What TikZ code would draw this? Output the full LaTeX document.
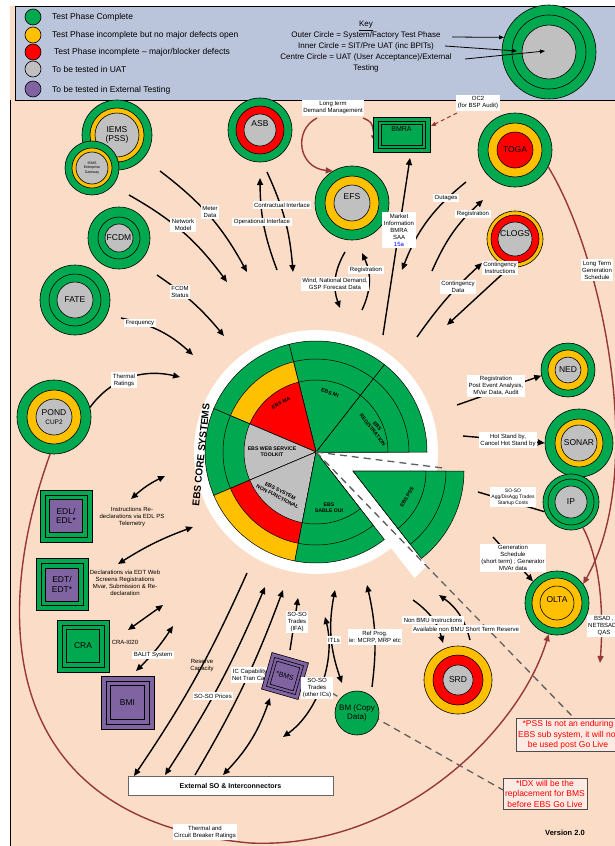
\documentclass[tikz,border=0pt]{standalone}
\usepackage{fontspec}
\setmainfont{Liberation Sans}
\usetikzlibrary{arrows.meta}
\definecolor{okgreen}{RGB}{0,168,80}
\definecolor{okamber}{RGB}{255,192,0}
\definecolor{okred}{RGB}{255,0,0}
\definecolor{okgrey}{RGB}{192,192,192}
\definecolor{extpurple}{RGB}{128,100,162}
\definecolor{peach}{RGB}{251,221,199}
\definecolor{keyblue}{RGB}{186,196,218}
\definecolor{rust}{RGB}{150,56,52}
\definecolor{notepink}{RGB}{253,234,226}
\definecolor{dashgrey}{RGB}{95,95,95}
\tikzset{
  disc/.style={circle,draw=black,line width=0.6pt,inner sep=0pt},
  sq/.style={rectangle,draw=black,line width=0.6pt,inner sep=0pt},
  arr/.style={line width=1.4pt,->},
  darr/.style={line width=1.4pt,<->},
  plainline/.style={line width=1.4pt},
  rustarr/.style={draw=rust,line width=1.4pt,->},
  lbl/.style={fill=white,inner sep=1.5pt,align=center,font=\fontsize{6}{7}\selectfont},
  bare/.style={inner sep=0pt,align=center,font=\fontsize{6}{7}\selectfont},
  sysname/.style={inner sep=0pt,align=center,font=\fontsize{8.5}{9.5}\selectfont},
  seclbl/.style={inner sep=0pt,align=center,font=\fontsize{5.2}{6}\selectfont\bfseries},
  legtxt/.style={anchor=west,inner sep=0pt,font=\fontsize{8.5}{9}\selectfont},
  note/.style={draw=black!70,fill=notepink,text=okred,align=center,font=\fontsize{8.5}{10.5}\selectfont,inner sep=2pt},
  pssdash/.style={draw=dashgrey,line width=1.3pt,dash pattern=on 7pt off 5pt}
}
\newcommand{\sysring}[9]{%
  \node[disc,minimum size=#3,fill=#4] (#1) at (#2) {};
  \node[disc,minimum size=#5,fill=#6] (#1-m) at (#1) {};
  \node[disc,minimum size=#7,fill=#8] (#1-c) at (#1) {};
  \node[sysname] (#1-t) at (#1) {#9};
}
\newcommand{\sysbox}[6]{%
  \node[sq,fill=#4,minimum size=#3] (#1) at (#2) {};
  \node[sq,minimum size=#3-10pt] (#1-m) at (#1) {};
  \node[sq,fill=#5,minimum size=#3-19pt] (#1-c) at (#1) {};
  \node[sysname] (#1-t) at (#1) {#6};
}
\begin{document}
\begin{tikzpicture}[x=1pt,y=1pt,>={Triangle[length=7pt,width=6pt]}]
\useasboundingbox (0,0) rectangle (615,-846);
\fill[white] (0,0) rectangle (615,-846);
\fill[peach] (10,-6) rectangle (615,-846);
\filldraw[fill=keyblue,draw=black,line width=0.8pt] (15,-6) rectangle (620,-100);
\draw[line width=0.8pt] (10,-100) -- (10,-846);

\node[disc,fill=okgreen,minimum size=16pt] (lg-green) at (33,-17) {};
\node[disc,fill=okamber,minimum size=16pt] (lg-amber) at (33,-35) {};
\node[disc,fill=okred,minimum size=16pt] (lg-red) at (33,-52) {};
\node[disc,fill=okgrey,minimum size=16pt] (lg-grey) at (33,-69) {};
\node[disc,fill=extpurple,minimum size=16pt] (lg-purple) at (33,-89) {};
\node[legtxt] (lt-green) at (52,-17) {Test Phase Complete};
\node[legtxt] (lt-amber) at (52,-35) {Test Phase incomplete but no major defects open};
\node[legtxt] (lt-red) at (54,-52) {Test Phase incomplete -- major/blocker defects};
\node[legtxt] (lt-grey) at (52,-69) {To be tested in UAT};
\node[legtxt] (lt-purple) at (52,-90) {To be tested in External Testing};
\node[align=center,inner sep=0pt,font=\fontsize{8}{11}\selectfont] (keytxt) at (366,-47)
  {\underline{Key}\\Outer Circle = System/Factory Test Phase\\Inner Circle = SIT/Pre UAT (inc BPITs)\\Centre Circle = UAT (User Acceptance)/External\\Testing};
\sysring{keyc}{549,-52}{94pt}{okgreen}{74pt}{okgreen}{54pt}{okgrey}{}
\coordinate (kA) at (452,-37);
\coordinate (kB) at (445,-46);
\coordinate (kC) at (465,-59);
\coordinate (kD) at (517,-51);
\coordinate (kE) at (545,-51);
\draw[line width=0.8pt,-{Triangle[length=5pt,width=4pt]}] (kA) -- (keyc.162);
\draw[line width=0.8pt,-{Triangle[length=5pt,width=4pt]}] (kB) -- (kD);
\draw[line width=0.8pt,-{Triangle[length=5pt,width=4pt]}] (kC) -- (kE);

\sysring{iems}{117,-135}{70pt}{okgreen}{54pt}{okamber}{44pt}{okgrey}{IEMS\\(PSS)}
\sysring{gate}{92,-168}{54pt}{okgreen}{40pt}{okamber}{32pt}{okgrey}{}
\node[inner sep=0pt,align=center,font=\fontsize{3.6}{4.3}\selectfont] (gate-n) at (gate) {IEMS\\Enterprise\\Gateway};
\sysring{asb}{260,-130}{64pt}{okgreen}{48pt}{okred}{32pt}{okgrey}{}
\node[sysname] (asb-n) at (260,-124) {ASB};
\sysring{fcdm}{119,-238}{62pt}{okgreen}{42pt}{okgreen}{28pt}{okgrey}{FCDM}
\sysring{fate}{75,-300}{70pt}{okgreen}{52pt}{okgreen}{36pt}{okgrey}{FATE}
\sysring{efs}{352,-203}{74pt}{okgreen}{54pt}{okamber}{36pt}{okgrey}{}
\node[sysname] (efs-n) at (352,-197) {EFS};
\sysring{toga}{515,-150}{74pt}{okgreen}{54pt}{okamber}{36pt}{okred}{TOGA}
\sysring{clogs}{515,-239}{56pt}{okamber}{48pt}{okred}{34pt}{okgrey}{}
\node[sysname] (clogs-n) at (515,-234) {CLOGS};
\sysring{ned}{568,-370}{54pt}{okgreen}{40pt}{okamber}{26pt}{okgrey}{NED}
\sysring{sonar}{579,-443}{68pt}{okgreen}{48pt}{okamber}{36pt}{okgrey}{SONAR}
\sysring{ip}{571,-502}{56pt}{okgreen}{46pt}{okgreen}{32pt}{okgrey}{IP}
\sysring{olta}{557,-603}{64pt}{okgreen}{50pt}{okamber}{34pt}{okamber}{}
\node[sysname] (olta-n) at (557,-600) {OLTA};
\sysring{srd}{458,-680}{68pt}{okamber}{50pt}{okred}{30pt}{okgrey}{SRD}
\sysring{pond}{54,-417}{74pt}{okgreen}{54pt}{okamber}{36pt}{okgrey}{POND\\{\fontsize{6.5}{7.5}\selectfont CUP2}}

\coordinate (ebs) at (316,-452);
\coordinate (pss) at (353,-471);
\begin{scope}[shift={(ebs)}]
\fill[white] (0,0) circle (122);
\fill[white] (0,0) -- (-52:160) -- (110.9,-113.6) -- (37,-19) -- cycle;
\foreach \a/\b/\co/\cm/\ci in {0/52/okgreen/okgreen/okgreen,52/104/okgreen/okgreen/okgreen,104/157/okgreen/okamber/okred,157/203/okgreen/okgreen/okgrey,203/259/okamber/okred/okgrey,259/308/okgreen/okgreen/okgreen}{
  \filldraw[fill=\co,line width=0.5pt] (0,0) -- (\a:111) arc[start angle=\a,end angle=\b,radius=111] -- cycle;
  \filldraw[fill=\cm,line width=0.5pt] (0,0) -- (\a:93) arc[start angle=\a,end angle=\b,radius=93] -- cycle;
  \filldraw[fill=\ci,line width=0.5pt] (0,0) -- (\a:72) arc[start angle=\a,end angle=\b,radius=72] -- cycle;
}
\end{scope}
\begin{scope}[shift={(pss)}]
\foreach \r in {111,93,73}{
  \filldraw[fill=okgreen,line width=0.5pt] (0,0) -- (-52:\r) arc[start angle=-52,end angle=0,radius=\r] -- cycle;
}
\end{scope}
\node[seclbl,rotate=-19] (s-mi) at (330,-393) {EBS MI};
\node[seclbl,rotate=-52] (s-reg) at (375,-428) {EBS\\REGISTRATION};
\node[seclbl,rotate=27] (s-ma) at (281,-403) {EBS MA};
\node[seclbl] (s-web) at (272,-452) {EBS WEB SERVICE\\TOOLKIT};
\node[seclbl,rotate=-27] (s-nf) at (279,-494) {EBS SYSTEM\\NON FUNCTIONAL};
\node[seclbl] (s-sable) at (329,-508) {EBS\\SABLE OUI};
\node[seclbl,rotate=60] (s-pss) at (407,-497) {EBS PSS};
\node[inner sep=0pt,rotate=84,font=\fontsize{10}{11}\selectfont\bfseries] (s-core) at (201,-455) {EBS CORE SYSTEMS};

\coordinate (pssend) at (443,-468);
\coordinate (pssnoteA) at (573,-717);
\coordinate (bmsdash) at (300,-675);
\coordinate (idxdash) at (503,-790);
\draw[pssdash] (ebs) -- (pssend);
\draw[pssdash] (ebs) -- (pssnoteA);
\draw[pssdash] (bmsdash) -- (idxdash);

\coordinate (ltdA) at (317,-118);
\coordinate (ltdC) at (363,-118);
\coordinate (ltdD) at (375,-142);
\coordinate (oc2A) at (457,-113);
\coordinate (oc2B) at (431,-126);
\coordinate (bsadB) at (600,-663);
\coordinate (tcbM) at (250,-843);
\draw[rustarr] (ltdA) .. controls (293,-130) and (298,-168) .. (efs.121);
\draw[rustarr] (ltdC) .. controls (372,-122) .. (ltdD);
\draw[draw=rust,line width=1pt,dash pattern=on 4pt off 3pt,-{Triangle[length=5pt,width=4pt]}] (oc2A) -- (oc2B);
\draw[rustarr] (toga.-27) .. controls (602,-255) and (648,-470) .. (olta.36);
\draw[rustarr] (ip.-65) .. controls (600,-560) and (604,-610) .. (bsadB);
\draw[rustarr] (pond.-96) .. controls (-10,-620) and (0,-820) .. (tcbM) .. controls (400,-850) and (520,-730) .. (olta.-105);

\coordinate (meterA) at (160,-171);
\coordinate (meterB) at (247,-272);
\coordinate (netA) at (129,-195);
\coordinate (netB) at (227,-282);
\coordinate (fcdmA) at (157,-275);
\coordinate (fcdmB) at (224,-336);
\coordinate (freqA) at (121,-318);
\coordinate (freqB) at (193,-355);
\coordinate (opA) at (277,-270);
\coordinate (opB) at (260,-178);
\coordinate (conA) at (267,-172);
\coordinate (conB) at (293,-272);
\coordinate (windA) at (345,-252);
\coordinate (windB) at (340,-308);
\coordinate (regA) at (362,-310);
\coordinate (regB) at (362,-253);
\coordinate (mktA) at (383,-335);
\coordinate (mktB) at (410,-158);
\coordinate (outA) at (466,-182);
\coordinate (outB) at (402,-270);
\coordinate (reg2A) at (432,-271);
\coordinate (reg2B) at (483,-200);
\coordinate (cdA) at (417,-337);
\coordinate (cdB) at (482,-263);
\coordinate (ciB) at (447,-325);
\coordinate (therB) at (180,-377);
\coordinate (insA) at (131,-499);
\coordinate (insB) at (165,-476);
\coordinate (decA) at (118,-564);
\coordinate (decB) at (193,-527);
\coordinate (craA) at (128,-630);
\coordinate (craB) at (163,-605);
\coordinate (balA) at (136,-671);
\coordinate (balB) at (173,-626);
\coordinate (resA) at (247,-573);
\coordinate (resB) at (134,-776);
\coordinate (sopA) at (165,-775);
\coordinate (sopB) at (265,-587);
\coordinate (iccA) at (195,-775);
\coordinate (iccB) at (283,-590);
\coordinate (bmsA) at (270,-698);
\coordinate (bmsB) at (223,-775);
\coordinate (ifaA) at (290,-650);
\coordinate (ifaB) at (298,-598);
\coordinate (othA) at (283,-737);
\coordinate (othB) at (325,-617);
\coordinate (itlA) at (335,-590);
\coordinate (itlB) at (342,-683);
\coordinate (refA) at (372,-687);
\coordinate (refB) at (367,-585);
\coordinate (nbiA) at (413,-600);
\coordinate (nbiB) at (443,-643);
\coordinate (strA) at (470,-640);
\coordinate (strB) at (439,-595);
\coordinate (genA) at (493,-537);
\coordinate (peaA) at (457,-405);
\coordinate (hsbA) at (463,-436);
\coordinate (aggA) at (478,-492);
\draw[arr] (meterA) to[bend left=12] (meterB);
\draw[arr] (netA) to[bend left=12] (netB);
\draw[arr] (fcdmA) to[bend left=8] (fcdmB);
\draw[arr] (freqA) to[bend left=15] (freqB);
\draw[arr] (opA) to[bend left=10] (opB);
\draw[arr] (conA) to[bend left=10] (conB);
\draw[arr] (windA) to[bend right=25] (windB);
\draw[arr] (regA) to[bend right=25] (regB);
\draw[arr] (mktA) -- (mktB);
\draw[arr] (outA) to[bend right=15] (outB);
\draw[arr] (reg2A) to[bend left=12] (reg2B);
\draw[arr] (cdA) to[bend left=6] (cdB);
\draw[arr] (clogs.-100) -- (ciB);
\draw[arr] (pond.15) .. controls (110,-380) and (140,-368) .. (therB);
\draw[darr] (insA) to[bend left=8] (insB);
\draw[darr] (decA) to[bend left=6] (decB);
\draw[darr] (craA) -- (craB);
\draw[darr] (balA) to[bend right=6] (balB);
\draw[arr] (resA) to[bend left=5] (resB);
\draw[darr] (sopA) to[bend right=5] (sopB);
\draw[arr] (iccA) to[bend right=5] (iccB);
\draw[darr] (bmsA) to[bend left=12] (bmsB);
\draw[arr] (ifaA) -- (ifaB);
\draw[darr] (othA) .. controls (318,-712) and (336,-660) .. (othB);
\draw[darr] (itlA) to[bend right=15] (itlB);
\draw[arr] (refA) to[bend right=10] (refB);
\draw[arr] (nbiA) to[bend left=20] (nbiB);
\draw[arr] (strA) to[bend right=20] (strB);
\draw[arr] (genA) -- (olta.138);
\draw[arr] (peaA) -- (ned.192);
\draw[arr] (hsbA) -- (sonar.west);
\draw[plainline] (aggA) -- (ip.200);

\node[disc,fill=okgreen,minimum size=44pt,font=\fontsize{8}{9.5}\selectfont,align=center] (bm) at (357,-713) {BM (Copy\\Data)};
\node[sq,fill=okgreen,minimum width=57pt,minimum height=35pt] (bmra) at (401.5,-134.5) {};
\node[sq,minimum width=47pt,minimum height=27pt] (bmra-m) at (bmra) {};
\node[sq,minimum width=41pt,minimum height=21pt] (bmra-c) at (bmra) {};
\node[sysname,font=\fontsize{7}{8}\selectfont] (bmra-t) at (401.5,-129) {BMRA};
\sysbox{edl}{66,-516}{52pt}{okgreen}{extpurple}{EDL/\\EDL*}
\sysbox{edt}{62,-584.5}{52pt}{okgreen}{extpurple}{EDT/\\EDT*}
\sysbox{cra}{83,-646}{52pt}{okgreen}{okgreen}{CRA}
\sysbox{bmi}{127.5,-702.5}{53pt}{extpurple}{extpurple}{BMI}
\node[lbl] (l-icc) at (250,-675) {IC Capability\\Net Tran Cap};
\node[sq,fill=extpurple,minimum size=38pt,rotate=-16] (bms) at (285,-676) {};
\node[sq,minimum size=30pt,rotate=-16] (bms-m) at (bms) {};
\node[sq,fill=extpurple,minimum size=24pt,rotate=-16] (bms-c) at (bms) {};
\node[sysname,font=\fontsize{7}{8}\selectfont,rotate=-16] (bms-t) at (bms) {*BMS};

\node[lbl] (l-meter) at (210,-212) {Meter\\Data};
\node[lbl] (l-net) at (183,-225) {Network\\Model};
\node[lbl] (l-fcdm) at (180,-292) {FCDM\\Status};
\node[lbl] (l-freq) at (140,-323) {Frequency};
\node[lbl] (l-con) at (282,-205) {Contractual Interface};
\node[lbl] (l-op) at (262,-222) {Operational Interface};
\node[lbl] (l-reg) at (366,-270) {Registration};
\node[lbl] (l-wind) at (335,-284) {Wind, National Demand,\\GSP Forecast Data};
\node[lbl] (l-mkt) at (399,-230) {Market\\Information\\BMRA\\SAA\\\textcolor{blue}{15a}};
\node[lbl] (l-out) at (446,-198) {Outages};
\node[lbl] (l-reg2) at (473,-214) {Registration};
\node[lbl] (l-cd) at (458,-287) {Contingency\\Data};
\node[lbl] (l-ci) at (500,-268) {Contingency\\Instructions};
\node[lbl] (l-ltd) at (333,-108) {Long term\\Demand Management};
\node[lbl] (l-oc2) at (478,-103) {OC2\\(for BSP Audit)};
\node[lbl] (l-ltg) at (597,-270) {Long Term\\Generation\\Schedule};
\node[lbl] (l-pea) at (496,-386) {Registration\\Post Event Analysis,\\MVar Data, Audit};
\node[lbl] (l-hsb) at (508,-440) {Hot Stand by,\\Cancel Hot Stand by};
\node[lbl,font=\fontsize{5}{6}\selectfont] (l-agg) at (513,-497) {SO-SO\\Agg/DisAgg Trades\\Startup Costs};
\node[lbl] (l-gen) at (513,-558) {Generation\\Schedule\\(short term) ; Generator\\MVAr data};
\node[lbl] (l-bsad) at (604,-626) {BSAD ,\\NETBSAD ,\\QAS};
\node[lbl] (l-nbi) at (433,-620) {Non BMU Instructions};
\node[lbl] (l-str) at (466,-629) {Available non BMU Short Term Reserve};
\node[lbl] (l-ref) at (375,-637) {Ref Prog.\\ie: MCRP, MRP etc};
\node[lbl] (l-itl) at (334,-640) {ITLs};
\node[lbl] (l-ifa) at (297,-622) {SO-SO\\Trades\\(IFA)};
\node[lbl] (l-oth) at (317,-688) {SO-SO\\Trades\\(other ICs)};
\node[lbl] (l-sop) at (213,-696) {SO-SO Prices};
\node[bare] (l-res) at (202,-666) {Reserve\\Capacity};
\node[lbl] (l-bal) at (153,-655) {BALIT System};
\node[bare] (l-cra) at (125,-642) {CRA-I020};
\node[bare] (l-dec) at (125,-583) {Declarations via EDT Web\\Screens Registrations\\Mvar, Submission \& Re-\\declaration};
\node[bare] (l-ins) at (132,-517) {Instructions Re-\\declarations via EDL PS\\Telemetry};
\node[lbl] (l-ther) at (124,-380) {Thermal\\Ratings};
\node[lbl] (l-tcb) at (205,-832) {Thermal and\\Circuit Breaker Ratings};

\node[draw=black!60,line width=1pt,fill=white,minimum width=205pt,minimum height=19pt,font=\fontsize{7}{8}\selectfont\bfseries] (ext) at (230.5,-785.5) {External SO \& Interconnectors};
\node[note,anchor=west] (pssnote) at (516,-735) {*PSS Is not an enduring\\EBS sub system, it will not\\be used post Go Live};
\node[note] (idxnote) at (545,-793.5) {*IDX will be the\\replacement for BMS\\before EBS Go Live};
\node[font=\fontsize{7.5}{9}\selectfont\bfseries] (version) at (565,-833) {Version 2.0};
\end{tikzpicture}
\end{document}
